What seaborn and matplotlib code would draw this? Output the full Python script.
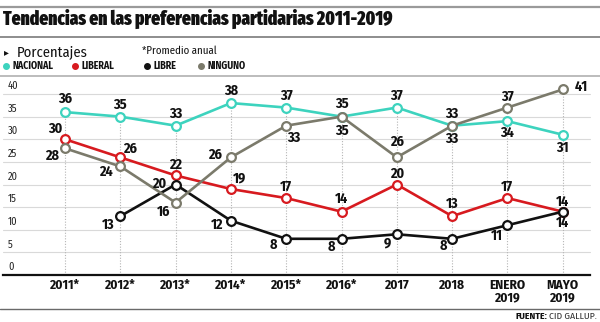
import matplotlib
matplotlib.use("Agg")
import matplotlib.pyplot as plt
from matplotlib.lines import Line2D
import numpy as np
import pandas as pd
import seaborn as sns

# --- data -------------------------------------------------------------
periodos = ["2011*", "2012*", "2013*", "2014*", "2015*", "2016*",
            "2017", "2018", "ENERO\n2019", "MAYO\n2019"]
nacional = [36, 35, 33, 38, 37, 35, 37, 33, 34, 31]
liberal = [30, 26, 22, 19, 17, 14, 20, 13, 17, 14]
libre = [np.nan, 13, 20, 12, 8, 8, 9, 8, 11, 14]
ninguno = [28, 24, 16, 26, 33, 35, 26, 33, 37, 41]
y_ticks = [0, 5, 10, 15, 20, 25, 30, 35, 40]

series = {"NACIONAL": nacional, "LIBERAL": liberal,
          "LIBRE": libre, "NINGUNO": ninguno}
colores = {"NACIONAL": "#3dd3be", "LIBERAL": "#d71a1f",
           "LIBRE": "#111111", "NINGUNO": "#7b7a6b"}

# label offsets (pixels) relative to each marker
offsets = {
    "NACIONAL": [(0, 13), (0, 12), (0, 12), (0, 12), (0, 12), (0, 13),
                 (0, 12), (0, 12), (0, -12), (0, -13)],
    "LIBERAL": [(-10, 10), (10, 8), (0, 11), (9, 11), (0, 11), (0, 13),
                (0, 11), (0, 12), (0, 11), (0, 10)],
    "LIBRE": [(0, 0), (-12, -9), (-16, 1), (-14, -4), (-13, -6), (-10, -8),
              (-9, -9), (-9, -7), (-11, -11), (0, -11)],
    "NINGUNO": [(-13, -8), (-14, -5), (-12, -9), (-16, 2), (8, -12), (0, -14),
                (0, 15), (0, -13), (0, 11), (19, 3)],
}

rows = []
for nombre, valores in series.items():
    for i, v in enumerate(valores):
        rows.append({"pos": i, "valor": v, "serie": nombre})
df = pd.DataFrame(rows).dropna()

# --- figure -------------------------------------------------------------
sns.set_theme(style="white")
FONT = ["Fira Sans Condensed", "DejaVu Sans"]
plt.rcParams["font.family"] = FONT
W, H = 600, 322
fig = plt.figure(figsize=(W / 100, H / 100), dpi=100)

def fy(px):
    return 1 - px / H

def fx(px):
    return px / W

ax_top, ax_bot = 94, 275
ax = fig.add_axes([fx(3), fy(ax_bot), fx(590) - fx(3), (ax_bot - ax_top) / H])
ax.set_xlim(-1.121, 9.493)
ax.set_ylim(0, 40)

# grid
for t in y_ticks[1:]:
    ax.axhline(t, color="#d9d9d9", lw=0.8, zorder=0)
maxima = np.nanmax(np.array([nacional, liberal, libre, ninguno], dtype=float), axis=0)
ax.vlines(range(len(periodos)), 0, maxima, colors="#b5b5b5",
          linestyles=(0, (1, 1.5)), lw=0.8, zorder=0)

sns.lineplot(data=df, x="pos", y="valor", hue="serie", palette=colores,
             hue_order=list(series.keys()), marker="o", markersize=6.3,
             markerfacecolor="white", markeredgewidth=1.6, lw=1.9,
             legend=False, ax=ax, estimator=None, sort=True, zorder=3)
for ln in ax.lines:
    ln.set_clip_on(False)
    ln.set_markeredgecolor(ln.get_color())

# value labels
for nombre, valores in series.items():
    for i, v in enumerate(valores):
        if np.isnan(v):
            continue
        dx, dy = offsets[nombre][i]
        ax.annotate(f"{int(v)}", (i, v), xytext=(dx, dy), textcoords="offset pixels",
                    ha="center", va="center", fontsize=10.2, fontweight="bold",
                    color="#111111", zorder=5, annotation_clip=False)

# y tick labels sit just above each gridline
for t in y_ticks:
    ax.annotate(str(t), (0, t), xycoords=("axes fraction", "data"),
                xytext=(5, 8), textcoords="offset pixels", ha="left", va="center",
                fontsize=7.5, color="#222222", annotation_clip=False)

sns.despine(ax=ax, left=True, top=True, right=True)
ax.spines["bottom"].set_color("#111111")
ax.spines["bottom"].set_linewidth(1.6)
ax.set_yticks([])
ax.set_xticks(range(len(periodos)))
ax.set_xticklabels(periodos, fontsize=9.5, fontweight="bold", color="#111111",
                   linespacing=1.05, ha="center")
ax.tick_params(axis="x", length=0, pad=3)
ax.set_xlabel("")
ax.set_ylabel("")

# --- header ---------------------------------------------------------------
def hline(ypx, color, lw):
    fig.add_artist(Line2D([0, 1], [fy(ypx), fy(ypx)], color=color, lw=lw,
                          transform=fig.transFigure))

hline(7, "#9a9a9a", 1.6)
hline(37, "#7a7a7a", 1.2)
hline(76, "#b0b0b0", 1.2)
hline(309, "#6a6a6a", 1.0)

titulo = fig.text(fx(3), fy(19), "Tendencias en las preferencias partidarias 2011-2019",
                  fontsize=14, fontweight="black", color="#111111", va="center", ha="left",
                  family=["Fira Sans Extra Condensed", "Fira Sans Condensed", "DejaVu Sans"])
fig.canvas.draw()
renderer = fig.canvas.get_renderer()
ancho = titulo.get_window_extent(renderer).width
titulo.set_fontsize(14 * 389 / ancho)

fig.text(fx(4), fy(52), "\u25b8", fontsize=7, color="#111111", va="center", ha="left",
         family=["DejaVu Sans"])
fig.text(fx(17), fy(52), "Porcentajes", fontsize=10.5, color="#111111",
         va="center", ha="left")
fig.text(fx(142), fy(51), "*Promedio anual", fontsize=7.8, color="#111111",
         va="center", ha="left")

leyenda_x = {"NACIONAL": 6, "LIBERAL": 75, "LIBRE": 147, "NINGUNO": 201}
for nombre, x0 in leyenda_x.items():
    fig.add_artist(Line2D([fx(x0)], [fy(65.5)], marker="o", ms=4.0, color=colores[nombre],
                          lw=0, transform=fig.transFigure))
    fig.text(fx(x0 + 6.5), fy(65.5), nombre, fontsize=7.2, fontweight="bold",
             color="#111111", va="center", ha="left")

fuente = fig.text(fx(597), fy(316.5), "CID GALLUP.", fontsize=7, color="#333333",
                  va="center", ha="right")
fig.canvas.draw()
bb = fuente.get_window_extent(fig.canvas.get_renderer())
fig.text(bb.x0 / W - fx(1.5), fy(316.5), "FUENTE:", fontsize=7, fontweight="bold",
         color="#111111", va="center", ha="right")

fig.savefig("out.png", dpi=100, facecolor="white")
